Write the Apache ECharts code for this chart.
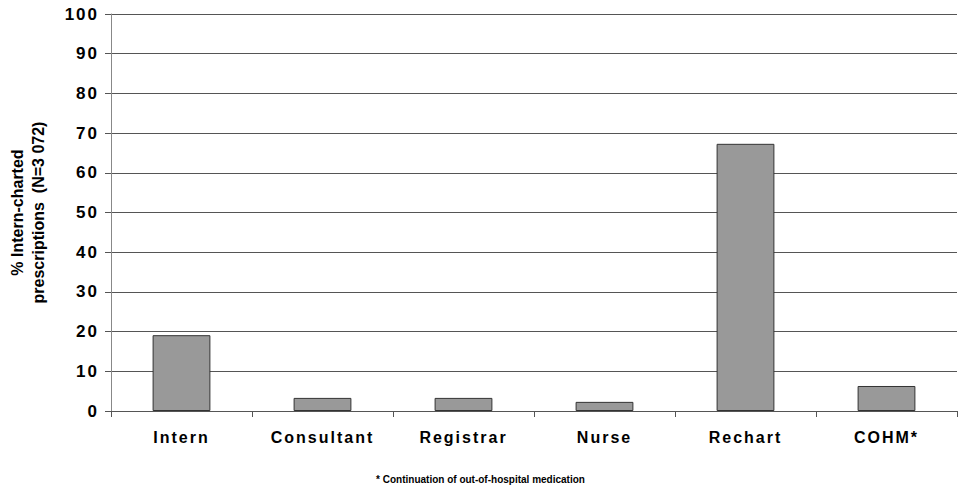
<!DOCTYPE html>
<html>
<head>
<meta charset="utf-8">
<script src="https://cdn.jsdelivr.net/npm/echarts@6/dist/echarts.min.js"></script>
<style>
  html, body { margin: 0; padding: 0; background: #fff; }
  #chart { width: 961px; height: 491px; }
</style>
</head>
<body>
<div id="chart"></div>
<script>
// Share of intern-charted prescriptions by who initiated them
const categories = ['Intern', 'Consultant', 'Registrar', 'Nurse', 'Rechart', 'COHM*'];
const percentages = [19.1, 3.3, 3.3, 2.3, 67.3, 6.3];
const yTicks = { min: 0, max: 100, interval: 10 };
const yTickLabels = ['0', '10', '20', '30', '40', '50', '60', '70', '80', '90', '100'];

const chart = echarts.init(document.getElementById('chart'), null, { renderer: 'svg' });
const fontFamily = '"Liberation Sans", Arial, Helvetica, sans-serif';

chart.setOption({
  animation: false,
  backgroundColor: '#ffffff',
  grid: { left: 111, right: 4, top: 14, bottom: 80, containLabel: false, outerBoundsMode: 'none' },
  xAxis: {
    type: 'category',
    data: categories,
    axisLine: { show: true, lineStyle: { color: '#555', width: 1 } },
    axisTick: { show: true, alignWithLabel: false, length: 6, lineStyle: { color: '#555' } },
    axisLabel: {
      color: '#000', fontFamily, fontWeight: 'bold', fontSize: 16, margin: 18
    },
    splitLine: { show: false }
  },
  yAxis: {
    type: 'value',
    min: yTicks.min, max: yTicks.max, interval: yTicks.interval,
    name: '% Intern-charted\nprescriptions  (N=3 072)',
    nameLocation: 'middle',
    nameGap: 62,
    nameTextStyle: { color: '#000', fontFamily, fontWeight: 'bold', fontSize: 16, lineHeight: 21 },
    axisLine: { show: true, lineStyle: { color: '#888', width: 1 } },
    axisTick: { show: true, length: 6, lineStyle: { color: '#555' } },
    axisLabel: {
      color: '#000', fontFamily, fontWeight: 'bold', fontSize: 17, margin: 12,
      formatter: (v) => yTickLabels[Math.round(v / yTicks.interval)]
    },
    splitLine: { show: true, lineStyle: { color: '#555', width: 1 } }
  },
  series: [{
    type: 'bar',
    data: percentages,
    barWidth: '41%',
    itemStyle: { color: '#999999', borderColor: '#333333', borderWidth: 1 }
  }],
  graphic: [{
    type: 'text',
    left: 'center',
    top: 474,
    style: {
      text: '* Continuation of out-of-hospital medication',
      fill: '#000',
      font: 'bold 10px ' + fontFamily
    }
  }]
});

// Widen the tracking of the axis tick labels
const spaced = new Set(categories.concat(yTickLabels));
function spaceLabels() {
  document.querySelectorAll('#chart svg text').forEach((el) => {
    if (spaced.has(el.textContent.trim())) {
      el.style.letterSpacing = '2px';
    }
  });
}
chart.on('finished', spaceLabels);
spaceLabels();
</script>
</body>
</html>
